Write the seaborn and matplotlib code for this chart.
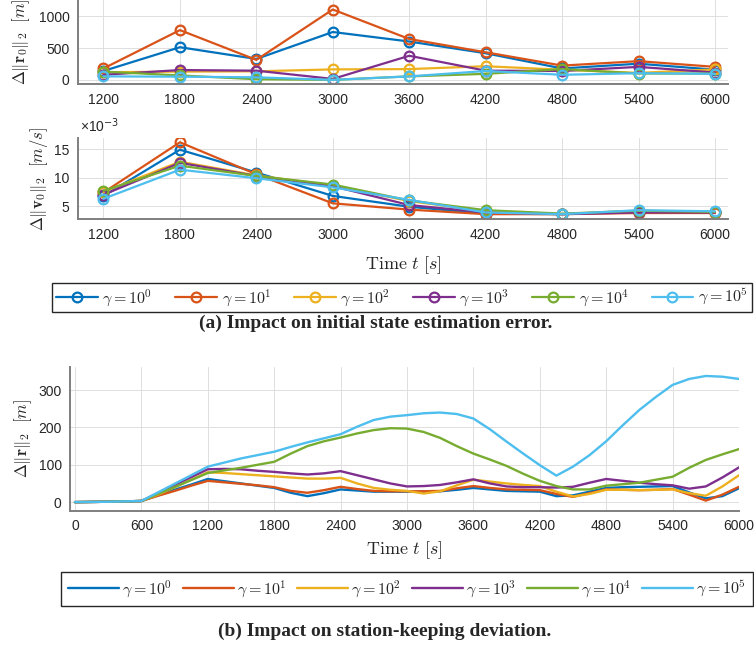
import numpy as np
import pandas as pd
import matplotlib
matplotlib.use("Agg")
import matplotlib.pyplot as plt
import seaborn as sns

sns.set_style("whitegrid")
plt.rcParams['font.family'] = ['Liberation Sans', 'DejaVu Sans']
plt.rcParams['mathtext.fontset'] = 'cm'

# --- data ---
gamma_labels = [r'$\gamma = 10^0$', r'$\gamma = 10^1$', r'$\gamma = 10^2$',
                r'$\gamma = 10^3$', r'$\gamma = 10^4$', r'$\gamma = 10^5$']
matlab_colors = ['#0072BD', '#D95319', '#EDB120', '#7E2F8E', '#77AC30', '#4DBEEE']

# estimation window end time [s]
t_window = [1200, 1800, 2400, 3000, 3600, 4200, 4800, 5400, 6000]

# initial position error [m]
dr0_g0 = [140, 515, 330, 755, 605, 420, 180, 255, 160]
dr0_g1 = [180, 785, 315, 1110, 645, 435, 225, 295, 205]
dr0_g2 = [120, 130, 135, 165, 170, 215, 160, 110, 165]
dr0_g3 = [80, 155, 145, 15, 380, 145, 140, 205, 115]
dr0_g4 = [130, 70, 10, 0, 55, 95, 170, 100, 100]
dr0_g5 = [55, 50, 40, 0, 55, 140, 80, 105, 95]

# initial velocity error [m/s], in units of 1e-3
dv0_g0 = [6.8, 14.9, 10.9, 6.8, 4.9, 3.7, 3.6, 4.0, 3.9]
dv0_g1 = [7.4, 16.2, 10.6, 5.5, 4.4, 3.6, 3.6, 3.8, 3.8]
dv0_g2 = [7.5, 12.8, 10.4, 8.6, 5.9, 4.1, 3.6, 4.2, 4.0]
dv0_g3 = [7.0, 12.6, 10.3, 8.5, 5.2, 3.9, 3.6, 3.9, 3.9]
dv0_g4 = [7.7, 12.1, 10.3, 8.8, 6.0, 4.3, 3.7, 4.2, 4.0]
dv0_g5 = [6.3, 11.4, 9.9, 8.3, 6.1, 3.9, 3.6, 4.3, 4.1]

# station-keeping deviation [m], sampled every 150 s
t_sk = np.arange(0, 6001, 150)
sk_g0 = [0, 0.5, 1, 2, 3, 18, 33, 47, 62, 56, 50, 44, 38, 25, 16, 24, 34, 31, 28, 28, 28,
         28, 29, 33, 38, 34, 30, 29, 28, 16, 18, 28, 38, 40, 41, 42, 43, 26, 10, 16, 37]
sk_g1 = [0, 0.5, 1, 2, 3, 17, 30, 44, 57, 53, 49, 45, 40, 30, 25, 32, 41, 35, 30, 29, 29,
         29, 30, 37, 43, 38, 34, 33, 32, 22, 14, 24, 34, 33, 32, 33, 35, 20, 4, 20, 41]
sk_g2 = [0, 0.5, 1, 2, 3, 20, 40, 60, 80, 78, 75, 72, 69, 66, 63, 63, 65, 50, 38, 33, 30,
         23, 29, 45, 60, 55, 50, 46, 43, 28, 15, 22, 33, 33, 32, 33, 34, 24, 17, 42, 72]
sk_g3 = [0, 0.5, 1, 2, 3, 24, 46, 67, 88, 89, 88, 84, 81, 77, 74, 77, 83, 72, 61, 50, 42,
         43, 46, 53, 61, 50, 42, 40, 40, 39, 41, 52, 62, 57, 52, 48, 45, 36, 42, 66, 93]
sk_g4 = [0, 0.5, 1, 2, 3, 22, 40, 59, 78, 85, 92, 100, 108, 130, 150, 163, 173, 184, 193, 198, 197,
         188, 172, 150, 130, 114, 97, 76, 57, 43, 34, 34, 44, 48, 52, 60, 68, 92, 113, 128, 142]
sk_g5 = [0, 0.5, 1, 2, 3, 26, 49, 72, 95, 106, 117, 126, 135, 148, 160, 171, 182, 202, 220, 229, 233,
         238, 240, 236, 224, 195, 162, 130, 99, 71, 95, 126, 163, 206, 247, 282, 314, 330, 338, 336, 330]


def long_frame(x, series):
    parts = [pd.DataFrame({'t': x, 'val': s, 'gamma': lab}) for s, lab in zip(series, gamma_labels)]
    return pd.concat(parts, ignore_index=True)


df_r0 = long_frame(t_window, [dr0_g0, dr0_g1, dr0_g2, dr0_g3, dr0_g4, dr0_g5])
df_v0 = long_frame(t_window, [dv0_g0, dv0_g1, dv0_g2, dv0_g3, dv0_g4, dv0_g5])
df_sk = long_frame(t_sk, [sk_g0, sk_g1, sk_g2, sk_g3, sk_g4, sk_g5])

W, H = 754, 657
fig = plt.figure(figsize=(W / 100, H / 100), dpi=100)
ax_r = fig.add_axes([78 / W, 1 - 84.3 / H, 649.7 / W, 84.3 / H])
ax_v = fig.add_axes([78 / W, 1 - 219.3 / H, 649.7 / W, 81 / H])
ax_sk = fig.add_axes([70 / W, 1 - 510.7 / H, 669 / W, 143.7 / H])


def matlab_look(ax):
    ax.grid(True, color='#dedede', linewidth=0.7)
    ax.set_axisbelow(True)
    for s in ['top', 'right']:
        ax.spines[s].set_visible(False)
    for s in ['left', 'bottom']:
        ax.spines[s].set_color('#7f7f7f')
        ax.spines[s].set_linewidth(1.4)
    ax.tick_params(direction='in', length=4, width=0.8, color='#262626',
                   labelsize=10, labelcolor='#262626', pad=6)


time_label = r'$\mathrm{Time}\ t\ [s]$'

# --- (a) initial state estimation error ---
for ax, df in [(ax_r, df_r0), (ax_v, df_v0)]:
    sns.lineplot(data=df, x='t', y='val', hue='gamma', palette=matlab_colors,
                 marker='o', markersize=7, linewidth=1.6, legend=False, ax=ax)
    for ln in ax.lines:
        ln.set_markerfacecolor('none')
        ln.set_markeredgecolor(ln.get_color())
        ln.set_markeredgewidth(1.6)
    matlab_look(ax)
    ax.set_xlim(1000, 6100)
    ax.set_xticks(t_window)

ax_r.set_ylim(-70, 1260)
ax_r.set_yticks([0, 500, 1000])
ax_r.set_xlabel('')
ax_r.set_ylabel(r'$\Delta\|\mathbf{r}_0\|_2\ \ [m]$', fontsize=12)
ax_r.yaxis.set_label_coords(-0.071, 0.5)

ax_v.set_ylim(2.7, 16.9)
ax_v.set_yticks([5, 10, 15])
ax_v.set_ylabel(r'$\Delta\|\mathbf{v}_0\|_2\ \ [m/s]$', fontsize=12)
ax_v.yaxis.set_label_coords(-0.043, 0.5)
ax_v.set_xlabel(time_label, fontsize=13)
ax_v.xaxis.set_label_coords(0.5, -0.43)
ax_v.text(0.003, 1.04, '×10$^{-3}$', transform=ax_v.transAxes, fontsize=10,
          color='#262626', va='bottom', ha='left', math_fontfamily='dejavusans')

leg_a = fig.legend(ax_r.lines, gamma_labels, loc='upper left',
                   bbox_to_anchor=(52 / W, 1 - 313 / H, 700 / W, 30 / H), mode='expand',
                   ncol=6, fontsize=11.5, frameon=True, fancybox=False, framealpha=1,
                   handlelength=2.6, handletextpad=0.3, columnspacing=0.6,
                   borderpad=0.25, borderaxespad=0)
leg_a.get_frame().set_edgecolor('#262626')
leg_a.get_frame().set_linewidth(1.0)

fig.text(376 / W, 1 - 323 / H, '(a) Impact on initial state estimation error.',
         ha='center', va='center', fontsize=14, fontweight='bold', family='Liberation Serif')

# --- (b) station-keeping deviation ---
sns.lineplot(data=df_sk, x='t', y='val', hue='gamma', palette=matlab_colors,
             linewidth=1.7, legend=False, ax=ax_sk)
matlab_look(ax_sk)
ax_sk.set_xlim(-45, 6000)
ax_sk.set_xticks(np.arange(0, 6001, 600))
ax_sk.set_ylim(-23, 362)
ax_sk.set_yticks([0, 100, 200, 300])
ax_sk.set_ylabel(r'$\Delta\|\mathbf{r}\|_2\ \ [m]$', fontsize=12)
ax_sk.yaxis.set_label_coords(-0.054, 0.5)
ax_sk.set_xlabel(time_label, fontsize=13)
ax_sk.xaxis.set_label_coords(0.5, -0.2)

leg_b = fig.legend(ax_sk.lines, gamma_labels, loc='upper left',
                   bbox_to_anchor=(61 / W, 1 - 605 / H, 692 / W, 33 / H), mode='expand',
                   ncol=6, fontsize=11.5, frameon=True, fancybox=False, framealpha=1,
                   handlelength=3.2, handletextpad=0.2, columnspacing=0.6,
                   borderpad=0.42, borderaxespad=0)
leg_b.get_frame().set_edgecolor('#262626')
leg_b.get_frame().set_linewidth(1.0)

fig.text(385 / W, 1 - 631 / H, '(b) Impact on station-keeping deviation.',
         ha='center', va='center', fontsize=14, fontweight='bold', family='Liberation Serif')

fig.savefig('out.png', dpi=100)
